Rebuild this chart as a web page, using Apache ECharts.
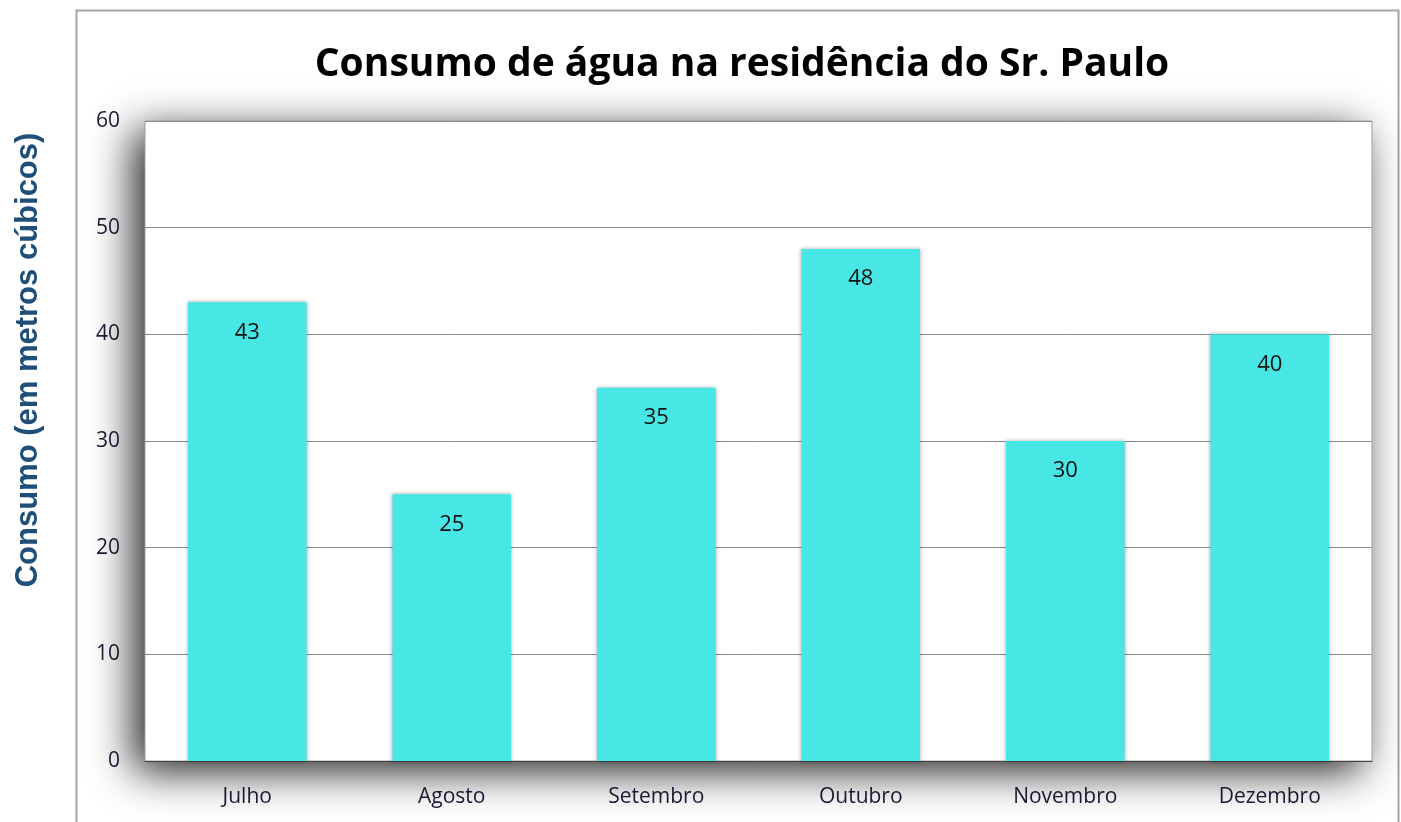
<!DOCTYPE html>
<html><head><meta charset="utf-8">
<script src="https://cdn.jsdelivr.net/npm/echarts@6/dist/echarts.min.js"></script>
<style>html,body{margin:0;padding:0;background:#fff}#c{width:1401px;height:822px}</style>
</head><body><div id="c"></div>
<script>
const categories = ['Julho','Agosto','Setembro','Outubro','Novembro','Dezembro'];
const consumo = [43, 25, 35, 48, 30, 40];
const yTicks = [0, 10, 20, 30, 40, 50, 60];
const titleText = 'Consumo de água na residência do Sr. Paulo';
const yAxisTitle = 'Consumo (em metros cúbicos)';

const W = 1401, H = 822;
const G = { left: 145, right: 29, top: 121, bottom: 61 };

const chart = echarts.init(document.getElementById('c'));
chart.setOption({
  backgroundColor: '#ffffff',
  animation: false,
  title: {
    text: titleText,
    left: 737, top: 40, textAlign: 'center',
    textStyle: { fontFamily: 'Open Sans', fontWeight: 'bold', fontSize: 39, color: '#000' }
  },
  graphic: [{
    type: 'rect', z: -10,
    shape: { x: 76.5, y: 10.5, width: 1322, height: 830 },
    style: { fill: 'none', stroke: '#a6a6a6', lineWidth: 2 }
  }, {
    type: 'rect', z: -5, silent: true,
    shape: { x: G.left, y: G.top, width: W - G.left - G.right, height: H - G.top - G.bottom },
    style: { fill: '#ffffff', shadowColor: 'rgba(0,0,0,0.88)', shadowBlur: 40, shadowOffsetX: -11, shadowOffsetY: 10 }
  }, {
    type: 'text', z: 10,
    x: 28, y: 360, rotation: Math.PI / 2,
    style: { text: yAxisTitle, fontFamily: 'Liberation Sans', fontWeight: 'bold', fontSize: 31,
      fill: '#1f4e79', align: 'center', verticalAlign: 'middle' }
  }],
  grid: {
    left: G.left, right: G.right, top: G.top, bottom: G.bottom,
    show: true, backgroundColor: '#ffffff',
    borderColor: '#a0a0a0', borderWidth: 1
  },
  xAxis: {
    type: 'category', data: categories,
    axisLine: { show: true, lineStyle: { color: '#444', width: 1 } },
    axisTick: { show: false },
    axisLabel: { margin: 26, fontFamily: 'Open Sans', fontSize: 21, color: '#1a1a33' }
  },
  yAxis: {
    type: 'value', min: yTicks[0], max: yTicks[yTicks.length-1], interval: 10,
    axisLine: { show: false }, axisTick: { show: false },
    axisLabel: { margin: 25, fontFamily: 'Open Sans', fontSize: 21, color: '#1a1a33' },
    splitLine: { lineStyle: { color: '#8c8c8c', width: 1 } }
  },
  series: [{
    type: 'bar', data: consumo, barCategoryGap: '42%',
    itemStyle: { color: '#49e6e6', shadowColor: 'rgba(0,0,0,0.35)', shadowBlur: 4 },
    label: { show: true, position: 'insideTop', distance: 19,
      fontFamily: 'Open Sans', fontSize: 22, color: '#111' }
  }]
});
</script></body></html>
